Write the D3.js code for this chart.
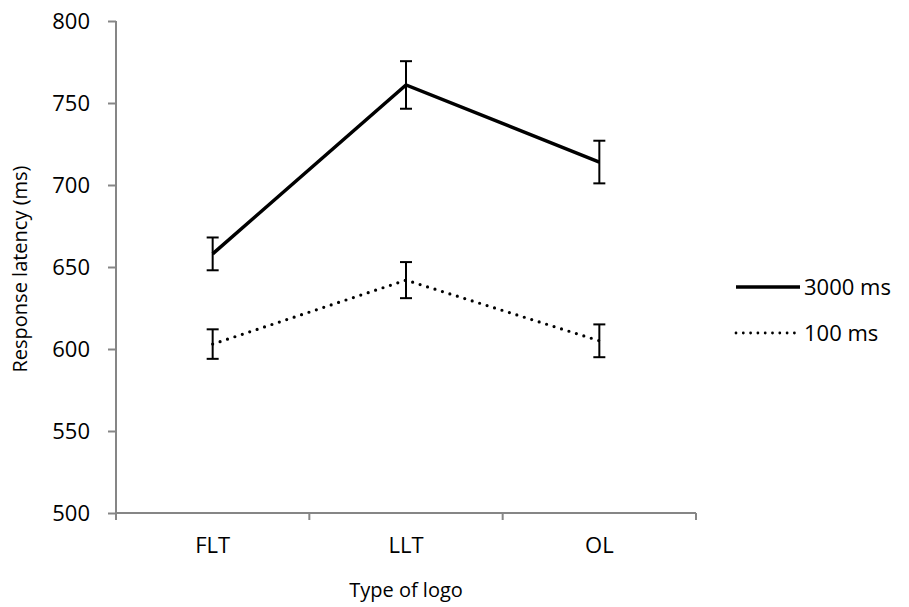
<!DOCTYPE html>
<html>
<head>
<meta charset="utf-8">
<script src="https://cdn.jsdelivr.net/npm/d3@7"></script>
<style>
  body { margin: 0; background: #fff; }
  svg text { font-family: "Open Sans", "Noto Sans", sans-serif; fill: #000; }
  .axis path, .axis line { stroke: #868686; stroke-width: 2; }
  .axis text { font-size: 22px; }
</style>
</head>
<body>
<svg class="chart" width="909" height="607"></svg>
<script>
var categories = ["FLT", "LLT", "OL"];
var yTicks = [500, 550, 600, 650, 700, 750, 800];
var series = ["3000 ms", "100 ms"];
var values3000 = [658, 761, 714];
var errors3000 = [10, 14.5, 13];
var values100 = [603, 642, 605];
var errors100 = [9, 11, 10];

var svg = d3.select(".chart");
var margin = {top: 21, left: 116};
var width = 580, height = 492;

var x = d3.scaleBand().domain(categories).range([0, width]);
var y = d3.scaleLinear().domain([500, 800]).range([height, 0]);

var g = svg.append("g")
    .attr("transform", "translate(" + margin.left + "," + margin.top + ")");

// axes
var yAxis = g.append("g").attr("class", "axis")
    .call(d3.axisLeft(y).tickValues(yTicks).tickSize(8).tickSizeOuter(0).tickPadding(18));
yAxis.select(".domain").attr("d", "M0," + height + "V0");

var xAxis = g.append("g").attr("class", "axis")
    .attr("transform", "translate(0," + height + ")")
    .call(d3.axisBottom(x).tickSize(0).tickPadding(24));
xAxis.select(".domain").attr("d", "M0,0H" + width);
xAxis.selectAll(".edge")
    .data(d3.range(categories.length + 1))
    .enter().append("line")
    .attr("x1", function(i) { return i * x.step(); })
    .attr("x2", function(i) { return i * x.step(); })
    .attr("y1", 0).attr("y2", 7);

// axis titles
svg.append("text")
    .attr("transform", "translate(20," + (margin.top + height / 2 + 2) + ") rotate(-90)")
    .attr("text-anchor", "middle")
    .attr("dy", "0.35em")
    .style("font-size", "20px")
    .text("Response latency (ms)");

svg.append("text")
    .attr("x", margin.left + width / 2)
    .attr("y", 597)
    .attr("text-anchor", "middle")
    .style("font-size", "20px")
    .text("Type of logo");

var cx = function(d, i) { return x(categories[i]) + x.bandwidth() / 2; };

function drawSeries(vals, errs, dash, lw) {
    var pts = vals.map(function(v, i) { return [cx(v, i), y(v)]; });
    g.append("path")
        .attr("d", d3.line()(pts))
        .attr("fill", "none")
        .attr("stroke", "#000")
        .attr("stroke-width", lw)
        .attr("stroke-linecap", dash ? "round" : "butt")
        .attr("stroke-dasharray", dash);

    var eb = g.append("g").attr("stroke", "#000").attr("stroke-width", 2);
    vals.forEach(function(v, i) {
        var xc = cx(v, i), t = y(v + errs[i]), b = y(v - errs[i]);
        eb.append("line").attr("x1", xc).attr("x2", xc).attr("y1", t).attr("y2", b);
        eb.append("line").attr("x1", xc - 6).attr("x2", xc + 6).attr("y1", t).attr("y2", t);
        eb.append("line").attr("x1", xc - 6).attr("x2", xc + 6).attr("y1", b).attr("y2", b);
    });
}

drawSeries(values3000, errors3000, null, 3.5);
drawSeries(values100, errors100, "0 7.8", 3.2);

// legend
var legend = svg.append("g").attr("transform", "translate(736,287)");
series.forEach(function(name, i) {
    var row = legend.append("g").attr("transform", "translate(0," + (i * 46) + ")");
    row.append("line")
        .attr("x1", 0).attr("x2", i === 0 ? 64 : 60)
        .attr("stroke", "#000")
        .attr("stroke-width", i === 0 ? 3.5 : 2.8)
        .attr("stroke-linecap", i === 0 ? "butt" : "round")
        .attr("stroke-dasharray", i === 0 ? null : "0 7.3");
    row.append("text")
        .attr("x", 68).attr("dy", "0.35em")
        .style("font-size", "22px")
        .text(name);
});
</script>
</body>
</html>
